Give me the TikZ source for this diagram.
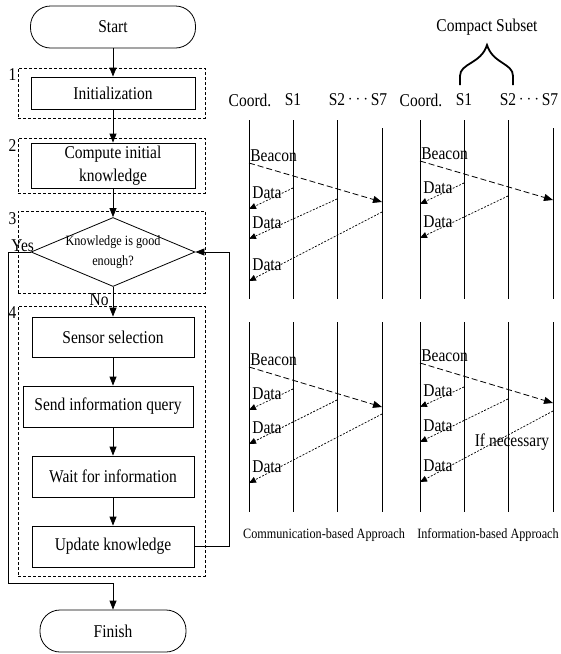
\documentclass[tikz,border=0pt]{standalone}
\usepackage{fontspec}
\setmainfont[FakeStretch=0.86]{Liberation Serif}
\usetikzlibrary{arrows.meta,positioning,shapes.geometric}

\begin{document}
\begin{tikzpicture}[x=1pt,y=-1pt,line width=0.8pt,>={Triangle[length=9pt,width=7pt]},
    font=\fontsize{18}{21}\selectfont]
    \tikzstyle{block}=[draw,minimum width=162pt,minimum height=41pt,align=center,inner sep=2pt]
    \tikzstyle{term}=[draw,rounded corners=20pt,minimum height=42pt]
    \tikzstyle{group}=[draw,dash pattern=on 3pt off 2pt,line width=0.6pt,minimum width=187pt]
    \tikzstyle{beacon}=[->,dash pattern=on 6pt off 3pt]
    \tikzstyle{data}=[-{Triangle[length=7pt,width=6pt]},dash pattern=on 2pt off 1.5pt,line width=0.7pt]
    \tikzstyle{lbl}=[inner sep=0pt]
    \tikzstyle{small}=[font=\fontsize{14.2}{20}\selectfont]
    \useasboundingbox (0,0) rectangle (561,654);

    % flow chart
    \node[group,minimum height=50pt,label={[anchor=north east,inner sep=1pt]north west:1}] (grp1) at (111.5,93) {};
    \node[group,minimum height=55pt,label={[anchor=north east,inner sep=1pt]north west:2}] (grp2) at (111.5,165.5) {};
    \node[group,minimum height=82pt,label={[anchor=north east,inner sep=1pt]north west:3}] (grp3) at (111.5,252) {};
    \node[group,minimum height=270pt,label={[anchor=north east,inner sep=1pt]north west:4}] (grp4) at (111.5,441) {};

    \node[term,minimum width=165pt] (start) at (113,27) {Start};
    \node[block,minimum width=164pt,minimum height=32pt] (init) at (113,93) {Initialization};
    \node[block,minimum width=164pt,minimum height=45pt,font=\fontsize{18}{23}\selectfont] (compute) at (113,165.5) {Compute initial\\knowledge};
    \node[draw,diamond,aspect=2.4,minimum width=164pt,minimum height=69pt,inner sep=-8pt,
          align=center,small] (decide) at (113,252) {Knowledge is good\\enough?};
    \node[block,minimum height=40pt] (sensor) at (113,337) {Sensor selection};
    \node[block,minimum width=170pt] (query) at (108,406.5) {Send information query};
    \node[block] (wait) at (113,476.5) {Wait for information};
    \node[block] (update) at (113,546.5) {Update knowledge};
    \node[term,minimum width=146pt] (finish) at (113,631) {Finish};
    \coordinate (yesturn) at (113,583);

    \draw[->] (start) -- (init);
    \draw[->] (init) -- (compute);
    \draw[->] (compute) -- (decide);
    \draw[->] (decide) -- node[lbl,left,pos=0.42,xshift=-4pt] (no) {No} (sensor);
    \draw[->] (sensor) -- (sensor |- query.north);
    \draw[->] (sensor |- query.south) -- (wait);
    \draw[->] (wait) -- (update);
    \draw[->] (update.east) -- ++(35,0) |- (decide.east);
    \draw[->] (decide.west) -- node[lbl,above,pos=0.36] (yes) {Yes} ++(-22,0) |- (yesturn) -- (finish);

    % message sequence charts
    \foreach \p/\dx in {L/0,R/171}{
      \begin{scope}[xshift=\dx pt]
        \coordinate (\p c)  at (249,0);
        \coordinate (\p s1) at (293,0);
        \coordinate (\p s2) at (337,0);
        \coordinate (\p s7) at (382,0);
        \node (\p hc) at (250,100) {Coord.};
        \node (\p h1) at (293,100) {S1};
        \node (\p h2) at (337,100) {S2};
        \node (\p hd) at (358,100) {$\cdots$};
        \node (\p h7) at (379,100) {S7};
      \end{scope}
      \foreach \n in {c,s1,s2}{
        \draw (\p\n |- 0,120) -- (\p\n |- 0,299);
      }
      \draw (\p s7 |- 0,128) -- (\p s7 |- 0,299);
      \foreach \n in {c,s1,s2,s7}{
        \draw (\p\n |- 0,322) -- (\p\n |- 0,512);
      }
    }

    % beacons
    \foreach \p/\y/\yy [count=\i] in {L/163/202,R/161/200,L/367/407,R/363/403}{
      \draw[beacon] (\p c |- 0,\y) node[lbl,anchor=south west,xshift=1pt,yshift=1pt] (beacon\i) {Beacon}
        -- (\p s7 |- 0,\yy);
    }
    % data replies
    \foreach \from/\y/\to/\yy [count=\i] in {Ls1/188/Lc/209,Ls2/199/Lc/239,Ls7/212/Lc/281,
        Rs1/183/Rc/204,Rs2/196/Rc/238,
        Ls1/389/Lc/410,Ls2/400/Lc/444,Ls7/414/Lc/483,
        Rs1/387/Rc/407,Rs2/399/Rc/442,Rs7/411/Rc/482}{
      \draw[data] (\from |- 0,\y) -- node[lbl,pos=1,anchor=south west,xshift=3pt,yshift=10pt] (data\i) {Data}
        (\to |- 0,\yy);
    }
    \node (ifnec) at (512,442) {If necessary};

    % compact subset brace
    \draw[line width=1.8pt] (460,85) -- (460,76) .. controls (460,63) and (481,64) .. (487,45)
      .. controls (493,64) and (513,63) .. (513,76) -- (513,85);
    \node (subset) at (487,27) {Compact Subset};

    \node[small] (commcap) at (324,535) {Communication-based Approach};
    \node[small] (infocap) at (488,535) {Information-based Approach};
\end{tikzpicture}
\end{document}
